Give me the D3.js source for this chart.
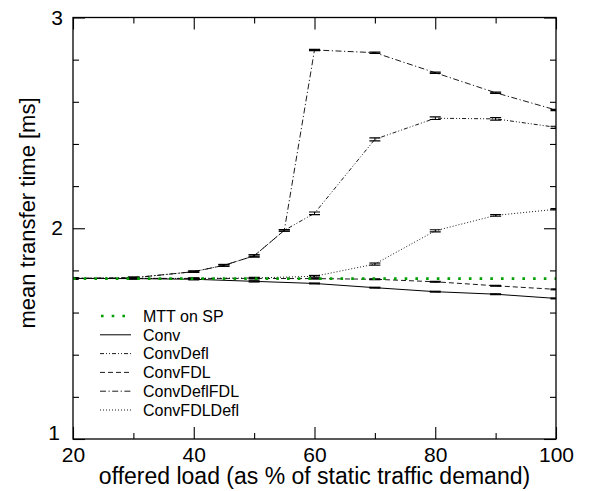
<!DOCTYPE html>
<html>
<head>
<meta charset="utf-8">
<script src="https://cdn.jsdelivr.net/npm/d3@7"></script>
<style>
  body { margin: 0; background: #fff; }
  text { font-family: "Liberation Sans", Arial, sans-serif; fill: #000; }
</style>
</head>
<body>
<script>
// offered load values (x)
const loadsCoarse = [20, 30, 40, 50, 60, 70, 80, 90, 100];
const loadsFine = [20, 30, 40, 45, 50, 55, 60, 70, 80, 90, 100];

// mean transfer time [ms]
const mttSP = [1.761, 1.761, 1.761, 1.761, 1.761, 1.761, 1.761, 1.761, 1.761];
const conv = [1.762, 1.761, 1.758, 1.748, 1.738, 1.718, 1.699, 1.687, 1.667];
const convFDL = [1.762, 1.762, 1.762, 1.762, 1.761, 1.758, 1.746, 1.727, 1.710];
const convDefl = [1.762, 1.765, 1.794, 1.824, 1.869, 1.99, 2.071, 2.422, 2.522, 2.519, 2.479];
const convDeflFDL = [1.762, 1.765, 1.794, 1.824, 1.869, 1.99, 2.846, 2.833, 2.738, 2.643, 2.561];
const convFDLDefl = [1.762, 1.762, 1.762, 1.764, 1.772, 1.830, 1.988, 2.061, 2.090];

// half width of error bars
const errConv = [0.002, 0.002, 0.003, 0.003, 0.002, 0.002, 0.002, 0.002, 0.002];
const errConvFDL = [0.002, 0.002, 0.002, 0.002, 0.002, 0.002, 0.002, 0.002, 0.002];
const errConvDefl = [0.002, 0.003, 0.003, 0.004, 0.005, 0.004, 0.006, 0.007, 0.006, 0.006, 0.005];
const errConvDeflFDL = [0.002, 0.003, 0.003, 0.004, 0.005, 0.004, 0.003, 0.003, 0.003, 0.003, 0.003];
const errConvFDLDefl = [0.002, 0.002, 0.002, 0.003, 0.004, 0.005, 0.005, 0.004, 0.003];

const xTicks = [20, 40, 60, 80, 100];
const xMinor = [30, 50, 70, 90];
const yTicks = [1, 2, 3];
const yMinor = [1.2, 1.4, 1.6, 1.8, 2.2, 2.4, 2.6, 2.8];

const series = [
  { name: 'MTT on SP', x: loadsCoarse, y: mttSP, err: null, color: '#00a000', width: 2.6, dash: '2.6,8.1' },
  { name: 'Conv', x: loadsCoarse, y: conv, err: errConv, color: '#000', width: 1, dash: null },
  { name: 'ConvDefl', x: loadsFine, y: convDefl, err: errConvDefl, color: '#000', width: 0.9, dash: '4,2,1,2,1,2' },
  { name: 'ConvFDL', x: loadsCoarse, y: convFDL, err: errConvFDL, color: '#000', width: 0.9, dash: '5,3' },
  { name: 'ConvDeflFDL', x: loadsFine, y: convDeflFDL, err: errConvDeflFDL, color: '#000', width: 0.9, dash: '6,2.5,1.2,2.5' },
  { name: 'ConvFDLDefl', x: loadsCoarse, y: convFDLDefl, err: errConvFDLDefl, color: '#000', width: 0.9, dash: '1,2' }
];

const width = 589;
const height = 491;
const margin = { left: 73, right: 33, top: 17.5, bottom: 52 };
const plotW = width - margin.left - margin.right;
const plotH = height - margin.top - margin.bottom;

const svg = d3.select('body').append('svg')
  .attr('width', width)
  .attr('height', height);

const x = d3.scaleLinear().domain([20, 100]).range([margin.left, margin.left + plotW]);
const y = d3.scaleLinear().domain([1, 3]).range([margin.top + plotH, margin.top]);

svg.append('defs').append('clipPath')
  .attr('id', 'plot-clip')
  .append('rect')
  .attr('x', margin.left)
  .attr('y', margin.top)
  .attr('width', plotW)
  .attr('height', plotH);

const plot = svg.append('g').attr('clip-path', 'url(#plot-clip)');

const line = d3.line()
  .x(d => x(d[0]))
  .y(d => y(d[1]));

// draw from back to front: rising curves first, green reference on top
const drawOrder = [5, 4, 2, 3, 1, 0];
drawOrder.forEach(i => {
  const s = series[i];
  const pts = s.x.map((v, j) => [v, s.y[j]]);
  plot.append('path')
    .datum(pts)
    .attr('d', line)
    .attr('fill', 'none')
    .attr('stroke', s.color)
    .attr('stroke-width', s.width)
    .attr('stroke-dasharray', s.dash);

  if (s.err) {
    const bars = plot.append('g').selectAll('g')
      .data(pts.map((p, j) => ({ x: p[0], y: p[1], e: s.err[j] })))
      .enter().append('g');
    bars.append('line')
      .attr('x1', d => x(d.x)).attr('x2', d => x(d.x))
      .attr('y1', d => y(d.y - d.e)).attr('y2', d => y(d.y + d.e))
      .attr('stroke', '#000').attr('stroke-width', 1);
    [-1, 1].forEach(sign => {
      bars.append('line')
        .attr('x1', d => x(d.x) - 5.5).attr('x2', d => x(d.x) + 5.5)
        .attr('y1', d => y(d.y + sign * d.e)).attr('y2', d => y(d.y + sign * d.e))
        .attr('stroke', '#000').attr('stroke-width', 1.2);
    });
  }
});

// frame
svg.append('rect')
  .attr('x', margin.left)
  .attr('y', margin.top)
  .attr('width', plotW)
  .attr('height', plotH)
  .attr('fill', 'none')
  .attr('stroke', '#000')
  .attr('stroke-width', 1.3);

// inward ticks on all four sides
const tickStyle = g => g.call(g => g.select('.domain').remove())
  .selectAll('.tick line').attr('stroke', '#000').attr('stroke-width', 1.1);

svg.append('g')
  .attr('transform', `translate(0,${margin.top + plotH})`)
  .call(d3.axisBottom(x).tickValues(xTicks).tickSize(-12).tickPadding(8).tickFormat(d3.format('d')))
  .call(tickStyle)
  .call(g => g.selectAll('text').attr('font-size', 21).attr('dy', '0.71em'));
svg.append('g')
  .attr('transform', `translate(0,${margin.top + plotH})`)
  .call(d3.axisBottom(x).tickValues(xMinor).tickSize(-6).tickFormat(''))
  .call(tickStyle);
svg.append('g')
  .attr('transform', `translate(0,${margin.top})`)
  .call(d3.axisTop(x).tickValues(xTicks).tickSize(-12).tickFormat(''))
  .call(tickStyle);
svg.append('g')
  .attr('transform', `translate(0,${margin.top})`)
  .call(d3.axisTop(x).tickValues(xMinor).tickSize(-6).tickFormat(''))
  .call(tickStyle);

svg.append('g')
  .attr('transform', `translate(${margin.left},0)`)
  .call(d3.axisLeft(y).tickValues(yTicks).tickSize(-12).tickPadding(10).tickFormat(d3.format('d')))
  .call(tickStyle)
  .call(g => g.selectAll('text').attr('font-size', 21))
  .call(g => g.selectAll('.tick').filter(d => d === 1).select('text').attr('x', -13).attr('dy', '0').attr('y', 0));
svg.append('g')
  .attr('transform', `translate(${margin.left},0)`)
  .call(d3.axisLeft(y).tickValues(yMinor).tickSize(-6).tickFormat(''))
  .call(tickStyle);
svg.append('g')
  .attr('transform', `translate(${margin.left + plotW},0)`)
  .call(d3.axisRight(y).tickValues(yTicks).tickSize(-12).tickFormat(''))
  .call(tickStyle);
svg.append('g')
  .attr('transform', `translate(${margin.left + plotW},0)`)
  .call(d3.axisRight(y).tickValues(yMinor).tickSize(-6).tickFormat(''))
  .call(tickStyle);

// axis titles
svg.append('text')
  .attr('x', margin.left + plotW / 2)
  .attr('y', 484)
  .attr('text-anchor', 'middle')
  .attr('font-size', 23)
  .text('offered load (as % of static traffic demand)');

svg.append('text')
  .attr('transform', 'translate(35,213) rotate(-90)')
  .attr('text-anchor', 'middle')
  .attr('font-size', 22)
  .text('mean transfer time [ms]');

// legend
const legend = svg.append('g')
  .selectAll('g')
  .data(series)
  .enter().append('g')
  .attr('transform', (d, i) => `translate(100,${316 + i * 18.8})`);

legend.append('line')
  .attr('x1', d => d.dash && d.width > 2 ? 1 : 0)
  .attr('x2', 31)
  .attr('stroke', d => d.color)
  .attr('stroke-width', d => d.width)
  .attr('stroke-dasharray', d => d.dash);

legend.append('text')
  .attr('x', 43)
  .attr('dy', '0.36em')
  .attr('font-size', 16)
  .text(d => d.name);
</script>
</body>
</html>
